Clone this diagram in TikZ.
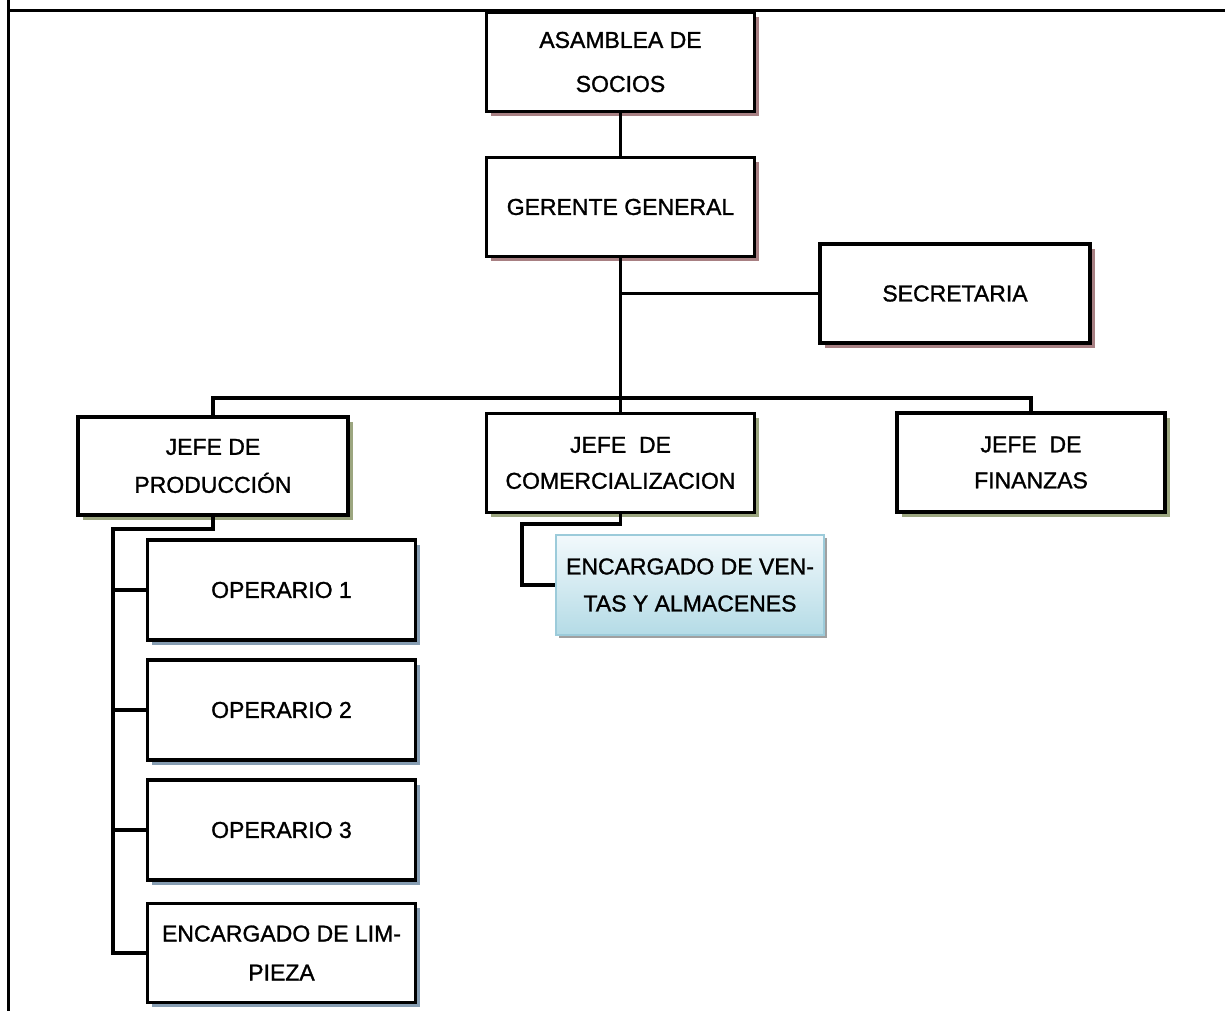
\documentclass[tikz,border=0pt]{standalone}
\usepackage{fontspec}
\setmainfont{Liberation Sans}[FakeBold=1.2]
\usetikzlibrary{shadows}
\definecolor{shadred}{HTML}{A88083}
\definecolor{shadgreen}{HTML}{9CA680}
\definecolor{shadblue}{HTML}{869DB2}
\definecolor{shadgray}{HTML}{A0A0A0}
\definecolor{ventop}{HTML}{F2F9FC}
\definecolor{venbot}{HTML}{B4DBE6}
\definecolor{venline}{HTML}{9CCBDA}
\tikzset{
  orgbox/.style={draw=black, line width=3.5pt, fill=white, minimum width=268pt,
    minimum height=99pt, inner sep=0pt, align=center,
    font=\fontsize{23}{38}\selectfont},
  redshadow/.style={drop shadow={shadow xshift=4.5pt, shadow yshift=-4.5pt, fill=shadred, opacity=1}},
  greenshadow/.style={drop shadow={shadow xshift=4.5pt, shadow yshift=-4.5pt, fill=shadgreen, opacity=1}},
  blueshadow/.style={drop shadow={shadow xshift=4.5pt, shadow yshift=-4.5pt, fill=shadblue, opacity=1}},
  link/.style={draw=black, line width=3.5pt},
  framerule/.style={draw=black, line width=3pt}
}
\begin{document}
\begin{tikzpicture}[x=1pt, y=-1pt]
\useasboundingbox (0,0) rectangle (1225,1011);
% page frame
\draw[framerule] (8,0) -- (8,1011);
\draw[framerule] (8,11) -- (1225,11);

% top levels
\node[orgbox, redshadow, font=\fontsize{23}{44}\selectfont] (asam) at (620.5,62) {ASAMBLEA DE\\SOCIOS};
\node[orgbox, redshadow] (ger) at (620.5,207) {GERENTE GENERAL};
\node[orgbox, redshadow, minimum width=270pt] (sec) at (955,293.5) {SECRETARIA};

% department heads
\node[orgbox, greenshadow, minimum width=270pt, minimum height=98pt] (jprod) at (213,466) {JEFE DE\\PRODUCCIÓN};
\node[orgbox, greenshadow, font=\fontsize{23}{36}\selectfont] (jcom) at (620.5,463) {JEFE\ \ DE\\COMERCIALIZACION};
\node[orgbox, greenshadow, font=\fontsize{23}{36}\selectfont] (jfin) at (1031,462.5) {JEFE\ \ DE\\FINANZAS};

% production staff
\node[orgbox, blueshadow, minimum height=100pt] (op1) at (281.5,590) {OPERARIO 1};
\node[orgbox, blueshadow, minimum height=100pt] (op2) at (281.5,710) {OPERARIO 2};
\node[orgbox, blueshadow, minimum height=100pt] (op3) at (281.5,830) {OPERARIO 3};
\node[orgbox, blueshadow, minimum height=99pt, font=\fontsize{23}{39}\selectfont] (limp) at (281.5,953) {ENCARGADO DE LIM-\\PIEZA};

% sales staff
\node[orgbox, draw=venline, line width=1.5pt, top color=ventop, bottom color=venbot,
  drop shadow={shadow xshift=3pt, shadow yshift=-3pt, fill=shadgray, opacity=1},
  minimum width=268pt, minimum height=100pt, font=\fontsize{23}{37}\selectfont] (ven) at (690,585) {ENCARGADO DE VEN-\\TAS Y ALMACENES};

% connectors
\coordinate (bus) at (620.5,398);
\coordinate (pv) at (113,529);
\coordinate (cv) at (522,524);
\draw[link] (asam.south) -- (ger.north);
\draw[link] (ger.south) -- (jcom.north);
\draw[link] (ger.south |- sec.west) -- (sec.west);
\draw[link] (jprod.north) |- (bus) -| (jfin.north);
\draw[link] (jprod.south) |- (pv) |- (limp.west);
\draw[link] (pv |- op1.west) -- (op1.west);
\draw[link] (pv |- op2.west) -- (op2.west);
\draw[link] (pv |- op3.west) -- (op3.west);
\draw[link] (jcom.south) |- (cv) |- (ven.west);
\end{tikzpicture}
\end{document}
